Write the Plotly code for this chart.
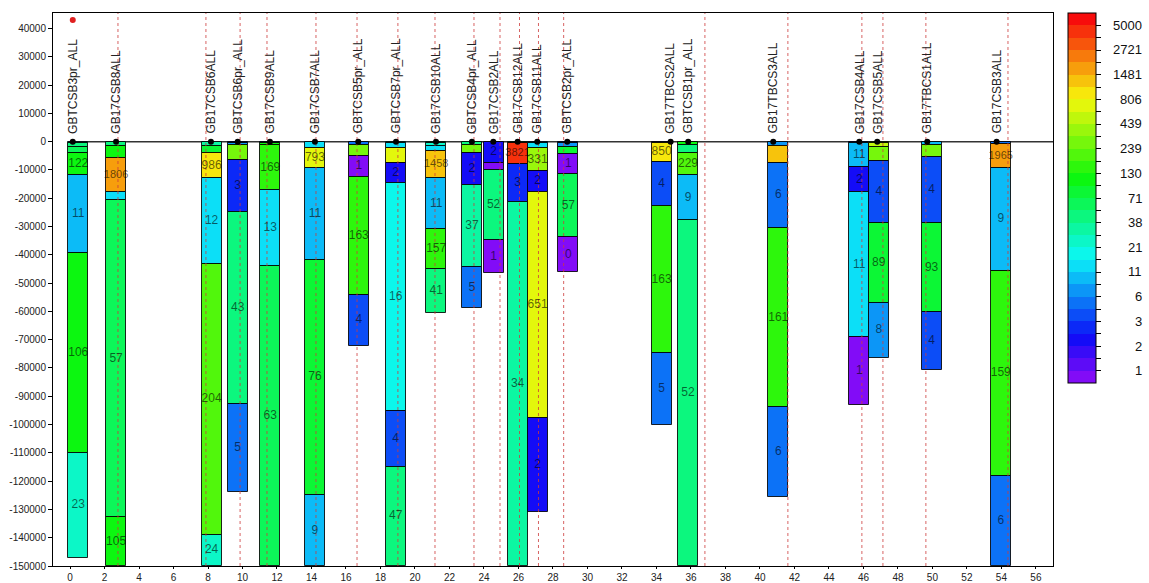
import math
import colorsys
import plotly.graph_objects as go

# ---- wells ---------------------------------------------------------------
well_names = [
    "GBTCSB3pr_ALL", "GB17CSB8ALL", "GB17CSB6ALL", "GBTCSB6pr_ALL", "GB17CSB9ALL",
    "GB17CSB7ALL", "GBTCSB5pr_ALL", "GBTCSB7pr_ALL", "GB17CSB10ALL", "GBTCSB4pr_ALL",
    "GB17CSB2ALL", "GB17CSB12ALL", "GB17CSB11ALL", "GBTCSB2pr_ALL", "GB17TBCS2ALL",
    "GBTCSB1pr_ALL", "GB17TBCS3ALL", "GB17CSB4ALL", "GB17CSB5ALL", "GB17TBCS1ALL",
    "GB17CSB3ALL",
]
well_head_x = [0.16, 2.67, 8.17, 9.72, 11.59, 14.20, 16.71, 18.90, 21.22, 23.30, 24.54,
               25.95, 27.09, 28.83, 34.82, 35.84, 40.77, 45.76, 46.80, 49.70, 53.72]
column_x = [0.48, 2.67, 8.21, 9.72, 11.61, 14.20, 16.74, 18.88, 21.23, 23.30, 24.56,
            25.95, 27.11, 28.89, 34.30, 35.83, 41.06, 45.76, 46.89, 49.95, 53.96]
trajectory_x = [2.78, 7.88, 9.86, 11.42, 14.26, 16.64, 19.01, 21.16, 23.42, 24.93,
                26.06, 27.16, 28.62, 36.81, 41.62, 45.91, 47.13, 49.62, 54.38]
flag_point = (0.16, 43000)

# ---- interval values (top to bottom) per well -----------------------------
seg_values = [
    [12, 40, 70, 122, 11, 106, 23],
    [45, 110, 1806, 12, 57, 105],
    [30, 90, 986, 12, 204, 24],
    [3, 8, 300, 3, 43, 5],
    [3, 100, 169, 13, 63],
    [12, 793, 11, 76, 9],
    [6, 300, 1, 163, 4],
    [30, 14, 700, 2, 16, 4, 47],
    [45, 25, 13, 1458, 11, 157, 41],
    [40, 300, 2, 37, 5],
    [2, 1, 52, 1],
    [40, 3821, 3, 34],
    [8, 14, 331, 2, 651, 2],
    [3, 7, 80, 1, 57, 0],
    [3, 850, 4, 163, 5],
    [100, 45, 229, 9, 52],
    [7, 1300, 6, 161, 6],
    [2, 11, 2, 11.45, 1],
    [350, 500, 250, 4, 89, 8],
    [10, 300, 4, 93, 4],
    [5, 1965, 9, 159, 6],
]
seg_bottoms = [
    [-350, -1800, -3900, -11800, -39500, -110000, -147000],
    [-1500, -5900, -17700, -20600, -132800, -150000],
    [-1500, -4100, -12900, -43200, -139000, -150000],
    [-500, -1200, -6500, -24700, -92700, -123700],
    [-600, -1200, -17100, -43900, -150000],
    [-2400, -9400, -41800, -124900, -150000],
    [-1200, -5100, -12400, -54200, -72100],
    [-600, -2400, -7400, -14700, -95200, -114900, -150000],
    [-350, -1500, -3200, -12900, -31000, -45100, -60500],
    [-1200, -4100, -15300, -44400, -58900],
    [-7400, -10000, -34700, -46500],
    [-500, -7900, -21200, -150000],
    [-600, -2400, -10300, -17700, -97600, -130800],
    [-350, -2000, -4400, -11400, -33800, -46000],
    [-350, -7100, -22700, -74800, -100200],
    [-1200, -4100, -11800, -27700, -150000],
    [-1500, -7400, -30600, -93900, -125500],
    [-600, -9100, -17700, -69200, -93100],
    [-400, -2000, -6700, -28900, -56900, -76600],
    [-1200, -5300, -28900, -60300, -80700],
    [-800, -9400, -45600, -118100, -150000],
]
seg_labelled = [
    [0, 0, 0, 1, 1, 1, 1],
    [0, 0, 1, 0, 1, 1],
    [0, 0, 1, 1, 1, 1],
    [0, 0, 0, 1, 1, 1],
    [0, 0, 1, 1, 1],
    [0, 1, 1, 1, 1],
    [0, 0, 1, 1, 1],
    [0, 0, 0, 1, 1, 1, 1],
    [0, 0, 0, 1, 1, 1, 1],
    [0, 0, 1, 1, 1],
    [1, 0, 1, 1],
    [0, 1, 1, 1],
    [0, 0, 1, 1, 1, 1],
    [0, 0, 0, 1, 1, 1],
    [0, 1, 1, 1, 1],
    [0, 0, 1, 1, 1],
    [0, 0, 1, 1, 1],
    [0, 1, 1, 1, 1],
    [0, 0, 0, 1, 1, 1],
    [0, 0, 1, 1, 1],
    [0, 1, 1, 1, 1],
]

# ---- colour scale: 1 .. 5000 on a log scale, 14 steps, 30 bands ------------
scale_max = 5000
steps = 14
n_bands = 30
k_min, k_max = -0.5, 14.5
scale_labels = [str(round(scale_max ** (i / steps))) for i in range(steps + 1)]


def band_rgb(b):
    h = (270 - b * 270 / (n_bands - 1)) / 360.0
    r, g, bl = colorsys.hsv_to_rgb(h, 0.95, 0.97)
    return "rgb(%d,%d,%d)" % (round(r * 255), round(g * 255), round(bl * 255))


def value_band(v):
    if v <= 0:
        return 0
    k = steps * math.log(v) / math.log(scale_max)
    b = math.ceil((k - k_min) / 0.5) - 1
    return max(0, min(n_bands - 1, b))


colorscale = []
for b in range(n_bands):
    c = band_rgb(b)
    colorscale.append([b / n_bands, c])
    colorscale.append([(b + 1) / n_bands, c])

# ---- build interval bars ---------------------------------------------------
bx, bbase, blen, bcol = [], [], [], []
tx, ty, tt, tsize = [], [], [], []
for i in range(len(well_names)):
    top = 0
    for v, bot, lab in zip(seg_values[i], seg_bottoms[i], seg_labelled[i]):
        bx.append(column_x[i])
        bbase.append(top)
        blen.append(bot - top)
        bcol.append(band_rgb(value_band(v)))
        if lab:
            s = str(round(v))
            tx.append(column_x[i])
            ty.append((top + bot) / 2)
            tt.append(s)
            tsize.append(12 if len(s) <= 3 else 11)
        top = bot

x_lo, x_hi = -0.986, 56.99
y_lo, y_hi = -150000, 45470

fig = go.Figure()

fig.add_trace(go.Bar(
    x=bx, y=blen, base=bbase, width=1.16,
    marker=dict(color=bcol, line=dict(color="rgba(0,0,0,0.85)", width=1)),
    hoverinfo="skip", showlegend=False,
))

# well trajectories
lx, ly = [], []
for xv in trajectory_x:
    lx += [xv, xv, None]
    ly += [y_lo, y_hi, None]
fig.add_trace(go.Scatter(
    x=lx, y=ly, mode="lines",
    line=dict(color="rgba(205,60,60,0.8)", width=1, dash="dot"),
    hoverinfo="skip", showlegend=False,
))

# interval values
fig.add_trace(go.Scatter(
    x=tx, y=ty, text=tt, mode="text",
    textfont=dict(family="Liberation Sans, Arial", size=tsize, color="rgba(0,0,0,0.6)"),
    hoverinfo="skip", showlegend=False,
))

# well heads
fig.add_trace(go.Scatter(
    x=well_head_x, y=[0] * len(well_head_x), mode="markers",
    marker=dict(color="black", size=6),
    hoverinfo="skip", showlegend=False,
))
fig.add_trace(go.Scatter(
    x=[flag_point[0]], y=[flag_point[1]], mode="markers",
    marker=dict(color="#e02020", size=6),
    hoverinfo="skip", showlegend=False,
))

# colour bar
tick_k = [i * 0.5 for i in range(0, 2 * steps + 1)]
fig.add_trace(go.Scatter(
    x=[x_lo - 10], y=[0], mode="markers",
    marker=dict(
        color=[0], colorscale=colorscale, cmin=k_min, cmax=k_max, size=1,
        showscale=True,
        colorbar=dict(
            x=1.015, xanchor="left", y=1, yanchor="top",
            len=370, lenmode="pixels", thickness=28, xpad=0, ypad=0,
            outlinecolor="black", outlinewidth=1,
            tickvals=tick_k, ticktext=[""] * len(tick_k),
            ticks="outside", ticklen=5, tickcolor="black", showticklabels=False,
        ),
    ),
    hoverinfo="skip", showlegend=False,
))

plot_h = 583 - 13 - 17
cb_len_frac = 370 / plot_h
annotations = []
for i, lab in enumerate(scale_labels):
    py = 1 - (k_max - i) / (k_max - k_min) * cb_len_frac
    annotations.append(dict(
        x=1.091, y=py, xref="paper", yref="paper", text=lab, showarrow=False,
        xanchor="right", yanchor="middle",
        font=dict(family="Liberation Sans, Arial", size=13, color="#111"),
    ))

for name, xv in zip(well_names, well_head_x):
    annotations.append(dict(
        x=xv, y=0, xref="x", yref="y", text=name, showarrow=False,
        textangle=-90, xanchor="center", yanchor="bottom", yshift=6,
        font=dict(family="Liberation Sans, Arial", size=12, color="#222"),
    ))

shapes = [dict(type="line", xref="x", yref="y", x0=-0.1, x1=x_hi, y0=0, y1=0,
               line=dict(color="#333", width=1.5), layer="below")]

y_ticks = list(range(-150000, 40001, 10000))
fig.update_layout(
    width=1149, height=583,
    margin=dict(l=53, r=96, t=13, b=17, autoexpand=False),
    paper_bgcolor="white", plot_bgcolor="white",
    barmode="overlay", bargap=0,
    showlegend=False,
    font=dict(family="Liberation Sans, Arial", size=10, color="#222"),
    xaxis=dict(
        range=[x_lo, x_hi], tickvals=list(range(0, 57, 2)),
        ticks="outside", ticklen=2, tickcolor="black", automargin=False,
        showline=True, linecolor="black", linewidth=1, mirror=True,
        showgrid=False, zeroline=False, tickfont=dict(size=10),
    ),
    yaxis=dict(
        range=[y_lo, y_hi], tickvals=y_ticks, ticktext=[str(v) for v in y_ticks],
        ticks="outside", ticklen=4, tickcolor="black", automargin=False,
        showline=True, linecolor="black", linewidth=1, mirror=True,
        showgrid=False, zeroline=False, tickfont=dict(size=10),
    ),
    annotations=annotations,
    shapes=shapes,
)

fig.write_html("out.html")
